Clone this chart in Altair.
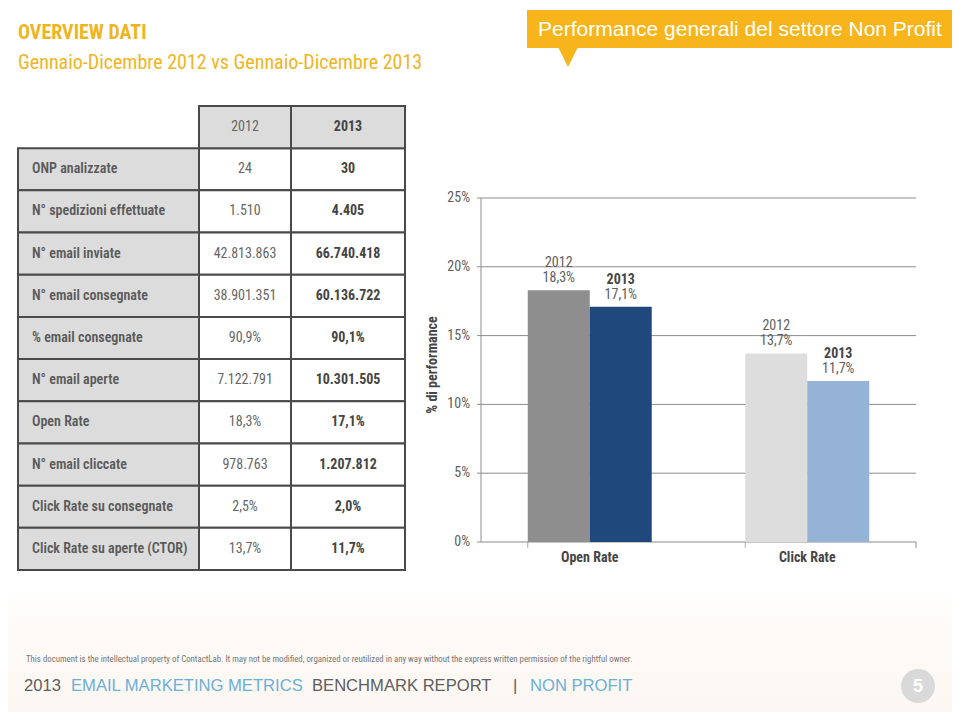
import altair as alt
import pandas as pd

# ---------------- data ----------------
row_labels = ["ONP analizzate", "N° spedizioni effettuate", "N° email inviate",
              "N° email consegnate", "% email consegnate", "N° email aperte",
              "Open Rate", "N° email cliccate", "Click Rate su consegnate",
              "Click Rate su aperte (CTOR)"]
values_2012 = ["24", "1.510", "42.813.863", "38.901.351", "90,9%", "7.122.791",
               "18,3%", "978.763", "2,5%", "13,7%"]
values_2013 = ["30", "4.405", "66.740.418", "60.136.722", "90,1%", "10.301.505",
               "17,1%", "1.207.812", "2,0%", "11,7%"]
header_years = ["2012", "2013"]

metrics = ["Open Rate", "Click Rate"]
years = ["2012", "2013"]
rate_2012 = [18.3, 13.7]
rate_2013 = [17.1, 11.7]
rate_labels_2012 = ["18,3%", "13,7%"]
rate_labels_2013 = ["17,1%", "11,7%"]
bar_colors_2012 = ["#8E8E8E", "#DDDDDD"]
bar_colors_2013 = ["#1F497D", "#95B3D7"]
y_ticks = [0, 5, 10, 15, 20, 25]
y_tick_labels = ["0%", "5%", "10%", "15%", "20%", "25%"]

# ---------------- styling ----------------
NARROW = "Liberation Sans Narrow, Arial Narrow, Roboto Condensed, DejaVu Sans Condensed, sans-serif"
SANS = "Liberation Sans, Arial, Helvetica, sans-serif"
YELLOW_T = "#EFB51E"
YELLOW_B = "#F7B51B"

one = pd.DataFrame({"a": [0]})


def deco_text(text, x, y, **kw):
    return alt.Chart(one).mark_text(text=text, **kw).encode(x=alt.value(x), y=alt.value(y))


# ---------------- table ----------------
row_domain = ["hdr"] + row_labels
row_scale = alt.Scale(domain=row_domain, range=[98, 562], paddingInner=0, paddingOuter=0)
Yrow = alt.Y("row:N", scale=row_scale, axis=None)

body = pd.DataFrame({"row": row_labels, "v2012": values_2012, "v2013": values_2013})
hdr = pd.DataFrame({"row": ["hdr", "hdr"], "year": header_years})

cell_stroke = dict(stroke="#4A4A4A", strokeWidth=2)
label_cells = alt.Chart(body).mark_rect(fill="#DCDCDC", **cell_stroke).encode(
    y=Yrow, x=alt.value(10), x2=alt.value(191))
c2012_cells = alt.Chart(body).mark_rect(fill="#FFFFFF", **cell_stroke).encode(
    y=Yrow, x=alt.value(191), x2=alt.value(283))
c2013_cells = alt.Chart(body).mark_rect(fill="#FFFFFF", **cell_stroke).encode(
    y=Yrow, x=alt.value(283), x2=alt.value(397))
h2012_cell = alt.Chart(hdr).transform_filter(alt.datum.year == "2012").mark_rect(
    fill="#DCDCDC", **cell_stroke).encode(y=Yrow, x=alt.value(191), x2=alt.value(283))
h2013_cell = alt.Chart(hdr).transform_filter(alt.datum.year == "2013").mark_rect(
    fill="#DCDCDC", **cell_stroke).encode(y=Yrow, x=alt.value(283), x2=alt.value(397))

label_text = alt.Chart(body).mark_text(
    align="left", baseline="middle", font=NARROW, fontSize=14, fontWeight=600,
    color="#5A5A5A").encode(y=Yrow, x=alt.value(24), text="row:N")
t2012 = alt.Chart(body).mark_text(
    align="center", baseline="middle", font=NARROW, fontSize=14,
    color="#666666").encode(y=Yrow, x=alt.value(237), text="v2012:N")
t2013 = alt.Chart(body).mark_text(
    align="center", baseline="middle", font=NARROW, fontSize=14, fontWeight="bold",
    color="#454545").encode(y=Yrow, x=alt.value(340), text="v2013:N")
h2012_t = alt.Chart(hdr).transform_filter(alt.datum.year == "2012").mark_text(
    align="center", baseline="middle", font=NARROW, fontSize=14,
    color="#666666").encode(y=Yrow, x=alt.value(237), text="year:N")
h2013_t = alt.Chart(hdr).transform_filter(alt.datum.year == "2013").mark_text(
    align="center", baseline="middle", font=NARROW, fontSize=14, fontWeight="bold",
    color="#454545").encode(y=Yrow, x=alt.value(340), text="year:N")

# ---------------- bar chart ----------------
bars_df = pd.DataFrame({
    "metric": metrics + metrics,
    "year": [years[0]] * 2 + [years[1]] * 2,
    "value": rate_2012 + rate_2013,
    "label": rate_labels_2012 + rate_labels_2013,
    "color": bar_colors_2012 + bar_colors_2013,
})
ticks_df = pd.DataFrame({"t": y_ticks, "lab": y_tick_labels})

yscale = alt.Scale(domain=[0, 25], range=[534, 190], nice=False, zero=True)
xscale = alt.Scale(domain=metrics, range=[473, 908], paddingInner=0.43, paddingOuter=0.215)
off_scale = alt.Scale(domain=years, paddingInner=0, paddingOuter=0)
Xm = alt.X("metric:N", scale=xscale, axis=None)
Xo = alt.XOffset("year:N", scale=off_scale)
Yv = alt.Y("value:Q", scale=yscale, axis=None)
Yt = alt.Y("t:Q", scale=yscale, axis=None)

grid = alt.Chart(ticks_df).mark_rule(color="#8C8C8C", strokeWidth=1).encode(
    y=Yt, x=alt.value(473), x2=alt.value(908))
ytick_marks = alt.Chart(ticks_df).mark_rule(color="#8C8C8C", strokeWidth=1).encode(
    y=Yt, x=alt.value(469), x2=alt.value(473))
yaxis_line = alt.Chart(one).mark_rule(color="#8C8C8C", strokeWidth=1).encode(
    x=alt.value(473), y=alt.value(190), y2=alt.value(534))
ytick_text = alt.Chart(ticks_df).mark_text(
    align="right", baseline="middle", font=NARROW, fontSize=14, color="#5E5E5E").encode(
    y=Yt, x=alt.value(462), text="lab:N")
xtick_df = pd.DataFrame({"metric": metrics})
xticks = alt.Chart(xtick_df).mark_tick(
    color="#8C8C8C", thickness=1, size=6, orient="vertical", bandSize=0).encode(
    x=alt.X("metric:N", scale=xscale, axis=None, bandPosition=0),
    y=alt.value(537))
xtick_end = alt.Chart(one).mark_rule(color="#8C8C8C", strokeWidth=1).encode(
    x=alt.value(908), y=alt.value(534), y2=alt.value(540))

bars = alt.Chart(bars_df).mark_bar().encode(
    x=Xm, xOffset=Xo, y=Yv, color=alt.Color("color:N", scale=None))

val_text = alt.Chart(bars_df).mark_text(
    align="center", baseline="middle", font=NARROW, fontSize=14, color="#5E5E5E",
    dy=-12).encode(x=Xm, xOffset=Xo, y=Yv, text="label:N")
year12_text = alt.Chart(bars_df).transform_filter(alt.datum.year == "2012").mark_text(
    align="center", baseline="middle", font=NARROW, fontSize=14, color="#5E5E5E",
    dy=-27).encode(x=Xm, xOffset=Xo, y=Yv, text="year:N")
year13_text = alt.Chart(bars_df).transform_filter(alt.datum.year == "2013").mark_text(
    align="center", baseline="middle", font=NARROW, fontSize=14, fontWeight="bold",
    color="#454545", dy=-27).encode(x=Xm, xOffset=Xo, y=Yv, text="year:N")

xlab = alt.Chart(xtick_df).mark_text(
    align="center", baseline="middle", font=NARROW, fontSize=14, fontWeight="bold",
    color="#454545").encode(x=Xm, y=alt.value(550), text="metric:N")
ytitle = deco_text("% di performance", 425, 357, angle=270, align="center",
                   baseline="middle", font=NARROW, fontSize=14, fontWeight="bold",
                   color="#454545")

# ---------------- decorations ----------------
footer_bg = alt.Chart(one).mark_rect(
    color=alt.LinearGradient(gradient="linear", x1=0, y1=0, x2=0, y2=1,
                             stops=[alt.GradientStop(color="#FFFFFF", offset=0),
                                    alt.GradientStop(color="#FDF9F6", offset=0.4),
                                    alt.GradientStop(color="#FCF7F2", offset=1)])
).encode(x=alt.value(0), x2=alt.value(944), y=alt.value(582), y2=alt.value(704))

title1 = deco_text("OVERVIEW DATI", 10, 25, align="left", baseline="middle",
                   font=NARROW, fontSize=20, fontWeight="bold", color=YELLOW_T)
title2 = deco_text("Gennaio-Dicembre 2012 vs Gennaio-Dicembre 2013", 10, 55,
                   align="left", baseline="middle", font=NARROW, fontSize=20,
                   color=YELLOW_T)

banner = alt.Chart(one).mark_rect(color=YELLOW_B).encode(
    x=alt.value(519), x2=alt.value(944), y=alt.value(2), y2=alt.value(40))
pointer = alt.Chart(one).mark_point(
    shape="M-1,-1L1,-1L0,1Z", filled=True, color=YELLOW_B, opacity=1, size=576).encode(
    x=alt.value(560), y=alt.value(47))
banner_text = deco_text("Performance generali del settore Non Profit", 530, 22,
                        align="left", baseline="middle", font=SANS, fontSize=21,
                        color="#FFFFFF")

disclaimer = deco_text(
    "This document is the intellectual property of ContactLab. It may not be modified, "
    "organized or reutilized in any way without the express written permission of the rightful owner.",
    18, 651, align="left", baseline="middle", font=NARROW, fontSize=8.8, color="#767676")

FGREY = "#5E5E5E"
FBLUE = "#6BB0D8"
FS = 16.6
f1 = deco_text("2013", 16, 678, align="left", baseline="middle", font=SANS, fontSize=FS, color=FGREY)
f2 = deco_text("EMAIL MARKETING METRICS", 63, 678, align="left", baseline="middle", font=SANS, fontSize=FS, color=FBLUE)
f3 = deco_text("BENCHMARK REPORT", 304, 678, align="left", baseline="middle", font=SANS, fontSize=FS, color=FGREY)
f4 = deco_text("|", 505, 678, align="left", baseline="middle", font=SANS, fontSize=FS, color=FGREY)
f5 = deco_text("NON PROFIT", 522, 678, align="left", baseline="middle", font=SANS, fontSize=FS, color=FBLUE)

page_circle = alt.Chart(one).mark_point(
    shape="circle", filled=True, color="#D9D9D9", opacity=1, size=1156).encode(
    x=alt.value(910), y=alt.value(678))
page_num = deco_text("5", 910, 679, align="center", baseline="middle", font=SANS,
                     fontSize=18, fontWeight="bold", color="#FFFFFF")

chart = alt.layer(
    footer_bg, title1, title2, banner, pointer, banner_text,
    label_cells, c2012_cells, c2013_cells, h2012_cell, h2013_cell,
    label_text, t2012, t2013, h2012_t, h2013_t,
    grid, ytick_marks, yaxis_line, ytick_text, xticks, xtick_end,
    bars, val_text, year12_text, year13_text, xlab, ytitle,
    disclaimer, f1, f2, f3, f4, f5, page_circle, page_num,
).resolve_scale(
    x="independent", y="independent"
).properties(
    width=944, height=704, padding=0, autosize=alt.AutoSizeParams(type="none"),
    background="#FFFFFF"
).configure_view(stroke=None)

chart.save("out.html", embed_options={"renderer": "svg", "actions": False})
